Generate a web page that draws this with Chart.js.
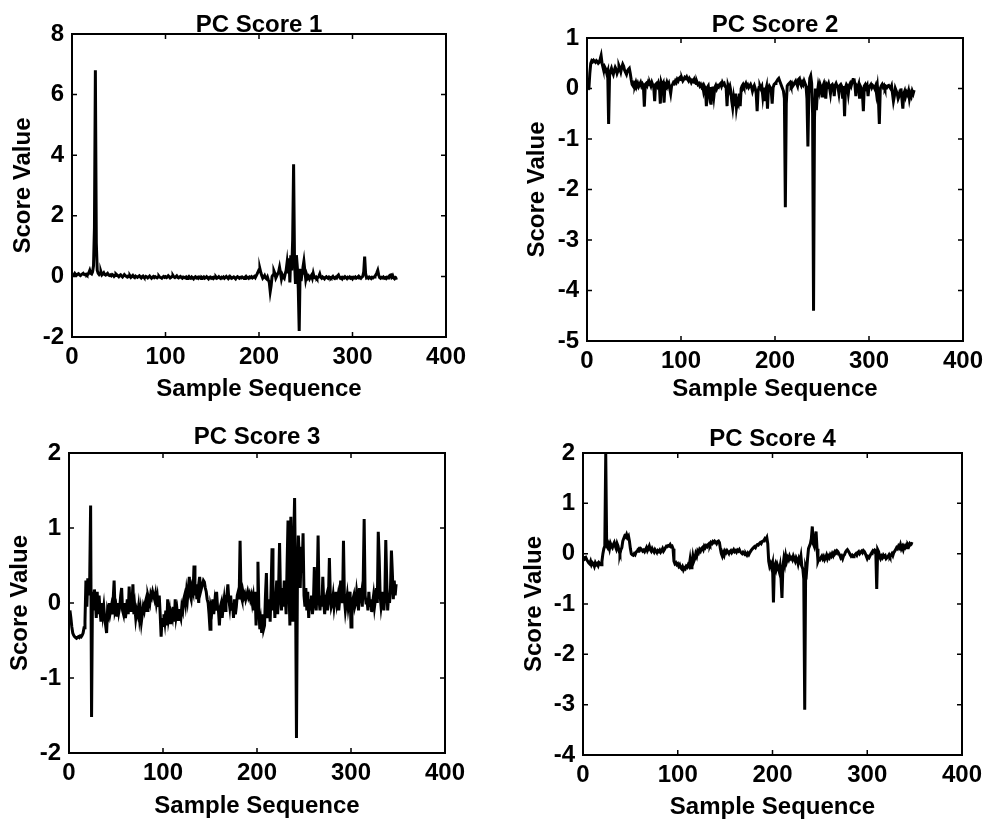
<!DOCTYPE html>
<html>
<head>
<meta charset="utf-8">
<title>PC Scores</title>
<script src="https://cdn.jsdelivr.net/npm/chart.js"></script>
<style>
  html, body { margin: 0; padding: 0; background: #fff; }
  body { width: 987px; height: 822px; position: relative; overflow: hidden; }
  canvas { position: absolute; }
</style>
</head>
<body>
<canvas id="pc1" width="493" height="411" style="left:0;top:0"></canvas>
<canvas id="pc2" width="493" height="411" style="left:494px;top:0"></canvas>
<canvas id="pc3" width="493" height="411" style="left:0;top:411px"></canvas>
<canvas id="pc4" width="493" height="411" style="left:494px;top:411px"></canvas>
<script>
// --- data (sample 1..348) ---
const titles = ['PC Score 1', 'PC Score 2', 'PC Score 3', 'PC Score 4'];
const xTicks = [0, 100, 200, 300, 400];
const pc1Ticks = [-2, 0, 2, 4, 6, 8];
const pc2Ticks = [-5, -4, -3, -2, -1, 0, 1];
const pc3Ticks = [-2, -1, 0, 1, 2];
const pc4Ticks = [-4, -3, -2, -1, 0, 1, 2];

const pc1 = [
  0.08, 0.05, 0.1, 0.06, 0.04, 0.07, 0.09, 0.05, 0.03, 0.06, 0.08, 0.1, 0.06, 0.05, 0.07, 0.04, 0.06, 0.12, 0.2, 0.1,
  0.08, 0.15, 0.35, 1.6, 6.8, 1.1, 0.2, 0.1, 0.06, 0.1, 0.15, 0.05, 0.08, 0.12, 0.06, 0.04, 0.07, 0.1, 0.05, 0.03,
  0.05, 0.02, 0.06, 0.04, 0.0, 0.03, 0.08, 0.05, 0.02, -0.01, 0.03, 0.05, 0.01, -0.02, 0.02, 0.06, 0.03, 0.0, -0.02, 0.01,
  -0.01, 0.02, -0.03, 0.0, 0.03, -0.02, -0.04, 0.01, -0.01, -0.03, 0.0, 0.02, -0.02, -0.05, -0.01, 0.01, -0.03, -0.04, 0.0, -0.02,
  -0.05, -0.02, 0.01, -0.03, -0.06, -0.02, 0.0, -0.04, -0.01, -0.03, -0.05, -0.02, 0.01, -0.03, -0.04, -0.06, -0.02, 0.0, -0.03, -0.01,
  -0.04, -0.02, 0.02, -0.01, -0.05, -0.03, 0.0, 0.03, -0.02, -0.04, -0.01, 0.02, -0.03, -0.05, -0.02, 0.0, -0.04, -0.06, -0.02, -0.03,
  -0.05, -0.02, -0.07, -0.03, 0.0, -0.04, -0.06, -0.02, -0.05, -0.08, -0.03, -0.01, -0.05, -0.03, -0.06, -0.02, -0.04, -0.07, -0.03, -0.05,
  -0.02, -0.06, -0.04, -0.01, -0.05, -0.08, -0.03, -0.02, -0.06, -0.04, -0.07, -0.03, -0.05, -0.02, -0.06, -0.04, -0.01, -0.05, -0.07, -0.03,
  -0.05, -0.02, -0.06, -0.03, 0.0, -0.04, -0.07, -0.02, -0.05, -0.03, -0.06, -0.04, -0.02, -0.05, -0.08, -0.03, -0.01, -0.04, -0.06, -0.03,
  -0.05, -0.02, -0.04, -0.07, -0.03, 0.0, -0.05, -0.03, -0.06, -0.02, -0.04, -0.01, -0.05, -0.03, 0.0, -0.04, 0.02, 0.08, 0.15, 0.22,
  0.25, 0.12, 0.02, -0.06, -0.02, 0.03, -0.05, -0.08, -0.02, -0.12, -0.2, -0.5, -0.3, 0.0, 0.05, 0.18, 0.1, -0.05, 0.02, 0.08,
  0.15, 0.3, 0.12, -0.08, 0.05, -0.02, -0.06, 0.08, 0.2, 0.45, 0.1, 0.6, -0.2, 0.7, 0.2, 1.2, 3.7, 0.5, -0.25, 0.7,
  0.3, -0.4, -1.8, 0.25, -0.15, 0.1, 0.3, 0.5, 0.2, -0.1, 0.05, -0.05, 0.0, -0.08, -0.02, 0.03, -0.06, 0.1, -0.03, -0.05,
  -0.02, -0.07, -0.04, 0.0, 0.08, -0.03, -0.06, -0.02, -0.05, -0.08, -0.03, -0.01, -0.05, -0.07, -0.02, -0.04, -0.06, -0.03, 0.0, -0.05,
  -0.07, -0.03, -0.05, 0.02, 0.05, -0.02, -0.06, -0.04, -0.08, -0.03, -0.05, -0.01, -0.04, -0.07, -0.03, -0.05, -0.02, -0.06, -0.04, -0.08,
  -0.03, -0.05, -0.02, -0.06, -0.04, -0.01, -0.05, -0.03, -0.06, -0.02, 0.0, 0.15, 0.65, 0.1, -0.05, -0.03, -0.06, -0.02, -0.04, -0.07,
  -0.03, -0.05, -0.02, 0.0, 0.05, 0.12, 0.2, 0.05, -0.04, -0.06, -0.03, -0.05, -0.02, -0.06, -0.04, -0.07, -0.03, -0.05, 0.0, 0.04,
  0.05, -0.02, 0.03, -0.05, -0.08, -0.04, -0.06, -0.05
];

const pc2 = [
  -0.02, 0.0, 0.3, 0.5, 0.55, 0.53, 0.56, 0.54, 0.52, 0.55, 0.53, 0.5, 0.52, 0.58, 0.65, 0.5, 0.42, 0.35, 0.42, 0.38,
  0.3, 0.35, -0.7, 0.25, 0.35, 0.4, 0.33, 0.28, 0.36, 0.42, 0.38, 0.3, 0.35, 0.45, 0.4, 0.33, 0.42, 0.48, 0.44, 0.36,
  0.32, 0.28, 0.35, 0.38, 0.4, 0.3, 0.18, 0.08, 0.05, 0.1, 0.06, 0.12, 0.05, 0.1, 0.04, 0.08, 0.12, 0.05, 0.09, 0.05,
  -0.36, 0.08, 0.1, 0.06, 0.12, 0.08, 0.1, 0.05, 0.12, 0.07, 0.02, -0.25, 0.08, 0.1, 0.05, 0.11, 0.04, -0.3, 0.12, 0.06,
  0.1, -0.28, 0.08, 0.05, 0.12, 0.06, 0.1, 0.0, -0.1, 0.05, 0.08, 0.12, 0.1, 0.15, 0.12, 0.18, 0.15, 0.2, 0.22, 0.18,
  0.2, 0.15, 0.18, 0.22, 0.2, 0.23, 0.18, 0.15, 0.2, 0.17, 0.12, 0.16, 0.14, 0.18, 0.12, 0.1, 0.13, 0.08, 0.1, 0.05,
  0.08, 0.03, 0.06, -0.05, 0.04, 0.0, -0.35, 0.02, 0.05, -0.1, 0.03, -0.32, 0.0, 0.04, -0.15, 0.02, 0.06, 0.0, 0.05, 0.03,
  0.08, 0.1, 0.05, 0.12, 0.08, 0.1, 0.04, 0.02, -0.35, 0.06, 0.0, 0.05, -0.05, -0.25, -0.38, -0.2, -0.35, -0.1, -0.38, -0.25,
  -0.3, -0.1, -0.35, 0.0, 0.05, 0.08, 0.03, 0.06, 0.1, 0.04, 0.07, 0.02, 0.05, 0.08, 0.03, -0.05, 0.02, 0.06, 0.0, -0.1,
  -0.45, -0.05, 0.02, 0.05, 0.0, 0.04, -0.15, 0.02, -0.25, -0.05, 0.03, -0.4, 0.0, 0.05, 0.02, -0.05, -0.3, 0.02, 0.08, 0.1,
  0.12, 0.15, 0.18, 0.2, 0.15, 0.1, 0.05, 0.0, -0.05, -0.2, -2.35, -0.3, 0.05, 0.08, 0.1, 0.12, 0.06, 0.1, 0.05, 0.08,
  0.12, 0.15, 0.1, 0.05, 0.18, 0.2, 0.1, 0.06, 0.12, 0.08, 0.15, 0.1, 0.05, -0.2, -1.15, -0.1, 0.2, 0.25, 0.1, -0.5,
  -4.4, -0.6, 0.0, -0.43, -0.1, 0.05, -0.05, 0.08, 0.02, -0.15, 0.05, 0.1, 0.0, -0.2, 0.08, 0.05, 0.1, 0.02, -0.1, 0.06,
  0.08, 0.03, -0.15, 0.06, 0.1, 0.05, 0.02, -0.1, 0.06, 0.08, 0.04, -0.2, 0.05, -0.55, 0.02, 0.08, 0.05, -0.1, 0.06, 0.1,
  0.05, 0.12, 0.18, 0.2, 0.08, -0.15, 0.05, 0.02, 0.08, -0.2, 0.04, 0.0, -0.1, -0.45, 0.05, 0.08, 0.02, 0.06, -0.15, 0.03,
  0.05, 0.08, 0.02, 0.06, 0.04, 0.0, 0.05, -0.1, 0.03, -0.2, -0.7, 0.0, 0.05, 0.08, 0.03, 0.06, 0.0, 0.04, 0.02, 0.05,
  0.06, 0.03, 0.0, 0.05, -0.1, -0.25, -0.15, 0.0, -0.05, -0.1, -0.2, -0.15, -0.05, 0.0, -0.2, -0.4, -0.1, -0.05, -0.15, -0.08,
  -0.12, -0.05, -0.2, -0.1, -0.15, -0.05, -0.1, -0.03
];

const pc3 = [
  -0.1, -0.2, -0.32, -0.4, -0.43, -0.45, -0.46, -0.47, -0.46, -0.45, -0.46, -0.44, -0.45, -0.43, -0.4, -0.33, -0.25, 0.3, -0.05, 0.33,
  0.1, 0.3, 1.3, -1.52, 0.15, -0.1, 0.18, 0.05, -0.2, 0.15, -0.15, 0.1, -0.1, -0.25, 0.0, -0.15, -0.05, -0.2, -0.3, -0.4,
  -0.1, -0.15, 0.0, -0.12, -0.05, -0.15, 0.05, 0.3, -0.1, -0.05, -0.18, 0.0, -0.12, -0.05, 0.1, 0.2, -0.1, -0.15, 0.0, -0.2,
  -0.1, 0.05, -0.15, 0.22, -0.05, -0.1, 0.0, 0.25, -0.15, -0.05, -0.2, -0.1, -0.15, -0.05, -0.2, -0.1, -0.25, -0.15, -0.05, -0.1,
  0.0, 0.05, -0.1, 0.1, 0.05, 0.0, 0.12, 0.08, 0.15, 0.1, 0.05, 0.12, 0.0, 0.08, -0.05, 0.1, -0.15, -0.45, -0.2, -0.3,
  -0.15, -0.25, -0.1, -0.3, 0.05, -0.2, -0.12, -0.28, -0.15, -0.2, -0.05, -0.25, 0.05, -0.18, -0.1, -0.22, -0.08, -0.15, -0.2, -0.05,
  -0.1, 0.05, 0.1, 0.0, 0.15, 0.05, 0.2, 0.35, 0.1, 0.05, 0.2, 0.15, 0.5, 0.1, 0.25, 0.05, 0.15, 0.0, 0.35, 0.15,
  0.2, 0.25, 0.3, 0.28, 0.2, 0.15, 0.05, 0.0, -0.15, -0.35, -0.05, -0.1, 0.05, -0.15, 0.0, -0.1, 0.15, -0.05, -0.1, -0.3,
  -0.05, 0.0, -0.2, -0.05, 0.05, -0.1, 0.0, 0.1, 0.25, 0.05, -0.05, 0.1, -0.1, 0.0, -0.2, 0.05, -0.15, -0.05, 0.1, 0.15,
  0.05, 0.83, 0.1, 0.05, 0.15, 0.08, 0.12, 0.05, 0.1, 0.15, 0.08, 0.12, 0.05, 0.1, 0.0, 0.08, -0.1, 0.15, -0.3, 0.05,
  0.55, -0.1, -0.35, -0.25, -0.4, -0.15, -0.35, -0.3, 0.1, 0.4, -0.2, -0.1, 0.05, -0.25, 0.2, 0.73, -0.1, 0.15, -0.2, 0.1,
  0.3, -0.15, 0.2, 0.8, 0.1, -0.1, 0.2, -0.05, 0.3, 0.1, -0.15, 0.5, 1.1, 0.2, -0.3, 1.15, 0.3, -0.25, 0.8, 1.4,
  0.2, -1.8, 0.3, 0.9, 0.6, 0.2, 0.75, 0.4, 0.93, 0.1, -0.05, 0.2, -0.1, 0.15, -0.2, 0.05, -0.1, 0.1, -0.15, 0.0,
  0.48, 0.05, -0.1, 0.2, 0.9, 0.05, -0.1, 0.1, -0.05, 0.35, 0.0, -0.15, 0.05, 0.1, -0.1, 0.05, 0.6, 0.1, -0.05, 0.0,
  0.1, -0.05, 0.05, 0.15, 0.0, 0.08, -0.1, 0.05, 0.3, 0.1, 0.0, 0.83, 0.05, -0.1, 0.0, 0.1, -0.05, 0.05, 0.15, -0.32,
  -0.1, 0.05, 0.1, -0.05, 0.0, 0.15, 0.05, -0.1, 0.2, 0.0, 0.1, -0.05, 0.3, 1.12, 0.1, 0.0, 0.05, -0.1, 0.15, -0.05,
  0.05, -0.12, 0.0, 0.1, -0.05, 0.05, 0.2, 0.0, 0.95, 0.6, 0.1, -0.05, 0.05, 0.15, -0.1, 0.1, 0.84, 0.3, -0.1, 0.1,
  0.0, 0.2, 0.7, 0.4, 0.05, 0.3, 0.1, 0.25
];

const pc4 = [
  -0.05, -0.1, -0.08, -0.12, -0.15, -0.18, -0.2, -0.15, -0.22, -0.18, -0.2, -0.25, -0.18, -0.22, -0.2, -0.24, -0.18, -0.2, -0.22, -0.15,
  0.0, 0.1, 0.15, 1.98, 0.15, 0.12, 0.18, 0.1, 0.2, 0.15, 0.12, 0.18, 0.22, 0.15, 0.1, 0.2, 0.15, 0.05, 0.0, 0.08,
  0.12, 0.25, 0.3, 0.35, 0.33, 0.38, 0.32, 0.35, 0.25, 0.1, 0.0, -0.02, -0.03, 0.0, -0.02, 0.03, 0.05, 0.08, 0.1, 0.07,
  0.1, 0.08, 0.05, 0.07, 0.04, 0.08, 0.12, 0.06, 0.1, 0.15, 0.08, 0.05, 0.1, 0.06, 0.03, 0.08, 0.05, 0.02, 0.06, 0.04,
  0.07, 0.03, 0.06, 0.1, 0.05, 0.08, 0.12, 0.15, 0.14, 0.16, 0.15, 0.18, 0.14, 0.15, 0.1, -0.15, -0.2, -0.18, -0.22, -0.2,
  -0.25, -0.22, -0.28, -0.3, -0.26, -0.32, -0.28, -0.3, -0.25, -0.27, -0.22, -0.25, -0.12, -0.28, -0.2, -0.05, -0.15, -0.1, 0.0, -0.05,
  0.05, 0.02, 0.08, 0.05, 0.1, 0.12, 0.08, 0.15, 0.12, 0.16, 0.14, 0.18, 0.2, 0.17, 0.22, 0.2, 0.24, 0.22, 0.25, 0.23,
  0.2, 0.24, 0.25, 0.22, 0.1, 0.0, -0.05, 0.02, -0.03, 0.05, 0.02, 0.06, 0.03, 0.0, 0.04, 0.06, 0.02, 0.05, 0.08, 0.04,
  0.06, 0.03, 0.07, 0.05, 0.08, 0.04, 0.02, 0.0, 0.03, 0.01, -0.02, 0.0, -0.03, 0.01, -0.02, 0.02, 0.05, 0.08, 0.1, 0.12,
  0.14, 0.12, 0.16, 0.18, 0.17, 0.2, 0.22, 0.2, 0.24, 0.25, 0.27, 0.3, 0.28, 0.32, 0.2, -0.15, -0.25, -0.2, -0.28, -0.2,
  -0.97, -0.25, -0.2, -0.3, -0.22, -0.28, -0.35, -0.25, -0.5, -0.88, -0.25, -0.1, -0.2, -0.05, -0.15, -0.08, -0.12, -0.05, -0.1, -0.08,
  -0.12, -0.05, -0.1, -0.15, -0.08, -0.12, -0.2, -0.1, -0.15, -0.05, -0.25, -0.3, -0.5, -3.1, -0.28, -0.35, -0.1, 0.1, 0.15, 0.2,
  0.3, 0.54, 0.2, 0.15, 0.3, 0.44, 0.1, -0.15, -0.1, -0.12, -0.08, -0.05, -0.1, -0.06, -0.12, -0.08, -0.03, -0.1, -0.05, -0.08,
  -0.02, -0.05, 0.0, -0.04, 0.02, 0.05, 0.03, 0.06, 0.04, 0.0, -0.03, -0.08, -0.05, -0.1, -0.04, -0.02, 0.03, 0.06, 0.08, 0.05,
  0.02, -0.02, -0.05, -0.03, -0.06, -0.04, -0.02, 0.0, -0.03, 0.02, 0.04, 0.0, 0.03, 0.05, 0.02, 0.06, 0.04, 0.0, -0.05, -0.1,
  -0.06, -0.08, -0.04, 0.0, 0.03, 0.06, 0.04, 0.07, 0.05, -0.7, 0.08, 0.04, -0.06, -0.1, -0.05, -0.08, -0.03, -0.06, -0.04, -0.1,
  -0.08, -0.05, -0.02, -0.06, -0.03, 0.0, -0.04, 0.02, 0.05, 0.08, 0.12, 0.1, 0.15, 0.12, 0.18, 0.1, 0.14, 0.08, 0.15, 0.12,
  0.16, 0.12, 0.18, 0.15, 0.2, 0.18, 0.2, 0.19
];

// --- layout of each panel inside its canvas: plot box [left, top, right, bottom] and text centres ---
const W = 493, H = 411;
const panels = [
  { id: 'pc1', series: pc1, yTicks: pc1Ticks, title: titles[0], box: [72, 34, 446, 337], titleY: 25.5, yTitleX: 23, xTitleY: 389 },
  { id: 'pc2', series: pc2, yTicks: pc2Ticks, title: titles[1], box: [93, 38, 469, 341], titleY: 25.5, yTitleX: 43.5, xTitleY: 389 },
  { id: 'pc3', series: pc3, yTicks: pc3Ticks, title: titles[2], box: [69, 42, 445, 342], titleY: 26.7, yTitleX: 20, xTitleY: 395.5 },
  { id: 'pc4', series: pc4, yTicks: pc4Ticks, title: titles[3], box: [89, 42, 468, 344], titleY: 28.3, yTitleX: 40, xTitleY: 396 }
];

Chart.defaults.font.family = "'Liberation Sans', Arial, Helvetica, sans-serif";
Chart.defaults.color = '#000';

const FONT_SIZE = 24;

// matlab style frame: full box with small inward ticks on all four sides
const frameTicks = {
  id: 'frameTicks',
  afterDatasetsDraw(chart) {
    const { ctx, chartArea: a, scales: { x, y } } = chart;
    ctx.save();
    ctx.strokeStyle = '#000';
    ctx.lineWidth = 2;
    ctx.strokeRect(a.left, a.top, a.right - a.left, a.bottom - a.top);
    ctx.lineWidth = 1.5;
    ctx.beginPath();
    x.ticks.forEach(t => {
      const px = x.getPixelForValue(t.value);
      ctx.moveTo(px, a.bottom); ctx.lineTo(px, a.bottom - 5);
      ctx.moveTo(px, a.top); ctx.lineTo(px, a.top + 5);
    });
    y.ticks.forEach(t => {
      const py = y.getPixelForValue(t.value);
      ctx.moveTo(a.left, py); ctx.lineTo(a.left + 5, py);
      ctx.moveTo(a.right, py); ctx.lineTo(a.right - 5, py);
    });
    ctx.stroke();
    ctx.restore();
  }
};

panels.forEach(p => {
  const [bl, bt, br, bb] = p.box;
  const half = FONT_SIZE / 2;
  const xHeight = p.xTitleY + half - bb;
  const padTop = p.titleY - half;

  new Chart(document.getElementById(p.id), {
    type: 'line',
    data: {
      datasets: [{
        data: p.series.map((v, i) => ({ x: i + 1, y: v })),
        borderColor: '#000',
        borderWidth: 3,
        pointRadius: 0,
        tension: 0,
        fill: false
      }]
    },
    options: {
      responsive: false,
      animation: false,
      events: [],
      layout: { padding: { left: 0, top: padTop, right: W - br, bottom: H - bb - xHeight } },
      plugins: {
        legend: { display: false },
        tooltip: { enabled: false },
        title: {
          display: true,
          text: p.title,
          fullSize: false,
          color: '#000',
          font: { size: FONT_SIZE, weight: 'bold', lineHeight: 1 },
          padding: { top: 0, bottom: bt - padTop - FONT_SIZE }
        }
      },
      scales: {
        x: {
          type: 'linear',
          min: xTicks[0],
          max: xTicks[xTicks.length - 1],
          grid: { display: false, drawTicks: false },
          border: { display: false },
          afterBuildTicks: s => { s.ticks = xTicks.map(v => ({ value: v })); },
          ticks: { padding: 6, autoSkip: false, maxRotation: 0, color: '#000',
                   font: { size: FONT_SIZE, weight: 'bold' }, callback: v => String(v) },
          title: { display: true, text: 'Sample Sequence', color: '#000', padding: 0,
                   font: { size: FONT_SIZE, weight: 'bold', lineHeight: 1 } },
          afterFit: s => { s.height = xHeight; s.paddingLeft = 0; s.paddingRight = 0; }
        },
        y: {
          type: 'linear',
          min: p.yTicks[0],
          max: p.yTicks[p.yTicks.length - 1],
          grid: { display: false, drawTicks: false },
          border: { display: false },
          afterBuildTicks: s => { s.ticks = p.yTicks.map(v => ({ value: v })); },
          ticks: { padding: 8, autoSkip: false, color: '#000',
                   font: { size: FONT_SIZE, weight: 'bold' }, callback: v => String(v) },
          title: { display: true, text: 'Score Value', color: '#000', padding: { top: p.yTitleX - half, bottom: 0 },
                   font: { size: FONT_SIZE, weight: 'bold', lineHeight: 1 } },
          afterFit: s => { s.width = bl; s.paddingTop = 0; s.paddingBottom = 0; }
        }
      }
    },
    plugins: [frameTicks]
  });
});
</script>
</body>
</html>
